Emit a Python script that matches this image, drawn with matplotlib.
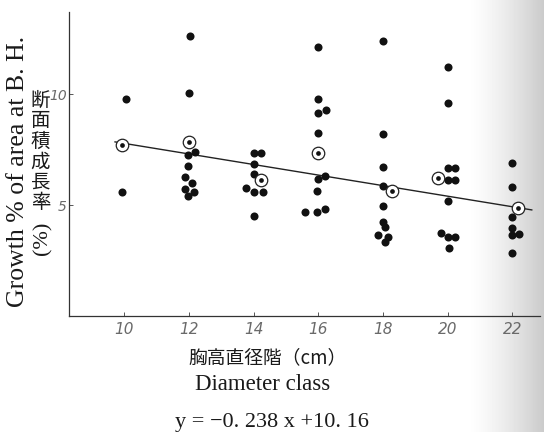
import numpy as np
import matplotlib
matplotlib.use("Agg")
import matplotlib.pyplot as plt

# diameter class (cm) and area growth (%) of each tree
dot_x = [10.05, 9.95,
         12.03, 12.0, 12.18, 11.97, 11.97, 11.88, 12.1, 11.88, 12.15, 11.97,
         14.0, 14.22, 14.0, 14.0, 13.78, 14.0, 14.28, 14.0,
         16.0, 16.0, 16.25, 16.0, 16.0, 16.2, 16.0, 15.97, 15.6, 15.97, 16.2,
         18.0, 18.0, 18.0, 18.0, 18.0, 18.0, 18.05, 17.85, 18.15, 18.05,
         20.0, 20.0, 20.0, 20.22, 20.0, 20.22, 20.0, 19.8, 20.0, 20.22, 20.03,
         22.0, 22.0, 22.0, 22.0, 22.0, 22.22, 22.0]
dot_y = [9.77, 5.59,
         12.63, 10.03, 7.39, 7.25, 6.77, 6.26, 5.99, 5.72, 5.59, 5.41,
         7.33, 7.33, 6.85, 6.38, 5.75, 5.60, 5.60, 4.50,
         12.13, 9.76, 9.28, 9.16, 8.26, 6.31, 6.16, 5.64, 4.70, 4.70, 4.82,
         12.39, 8.18, 6.73, 5.87, 4.97, 4.25, 4.02, 3.65, 3.57, 3.35,
         11.23, 9.58, 6.65, 6.65, 6.13, 6.13, 5.19, 3.72, 3.54, 3.57, 3.05,
         6.91, 5.83, 4.47, 3.95, 3.65, 3.69, 2.82]

# class means (circled points)
mean_x = [9.95, 12.0, 14.22, 16.0, 18.28, 19.7, 22.18]
mean_y = [7.70, 7.85, 6.13, 7.33, 5.63, 6.20, 4.85]

# regression y = -0.238 x + 10.16
slope = -0.238
intercept = 10.16
line_x = [9.72, 22.6]

xticks = [10, 12, 14, 16, 18, 20, 22]
yticks = [5, 10]

fig = plt.figure(figsize=(5.44, 4.32), dpi=100)

# page shadow of the scan on the right
bg = fig.add_axes([0, 0, 1, 1], zorder=0)
cols = np.arange(544)
t = np.clip((cols - 466) / (544 - 466), 0, 1)
shade = 1.0 - 0.21 * t ** 1.4
img = np.tile(shade, (432, 1))
bg.imshow(img, cmap="gray", vmin=0, vmax=1, aspect="auto",
          extent=[0, 1, 0, 1], interpolation="bilinear")
bg.set_axis_off()

ax = fig.add_axes([0.127, 0.2685, 0.866, 0.7037], zorder=1)
ax.patch.set_visible(False)

ax.plot(line_x, [slope * v + intercept for v in line_x],
        color="#222222", lw=1.0, zorder=2)
ax.plot(dot_x, dot_y, "o", ms=5.8, color="#111111", mec="none", zorder=3)
ax.plot(mean_x, mean_y, "o", ms=9, mfc="white", mec="#222222", mew=0.9, zorder=4)
ax.plot(mean_x, mean_y, "o", ms=3.4, color="#111111", mec="none", zorder=5)

ax.set_xlim(8.3, 22.86)
ax.set_ylim(0, 13.7)
ax.set_xticks(xticks)
ax.set_yticks(yticks)
ax.spines["top"].set_visible(False)
ax.spines["right"].set_visible(False)
for s in ("left", "bottom"):
    ax.spines[s].set_color("#333333")
    ax.spines[s].set_linewidth(0.9)
ax.tick_params(direction="in", length=3, width=0.7, color="#555555",
               labelcolor="#6a6a6a")
ax.tick_params(axis="y", pad=1.5)
ax.tick_params(axis="x", pad=4)
for lab in ax.get_xticklabels() + ax.get_yticklabels():
    lab.set_fontstyle("italic")
    lab.set_fontsize(11)
    lab.set_fontweight("light")
for lab in ax.get_yticklabels():
    lab.set_fontsize(10)

serif = ["Liberation Serif", "DejaVu Serif"]
cjk = ["Noto Sans CJK JP", "DejaVu Sans"]

fig.text(0.034, 0.602, "Growth % of area at B. H.", rotation=90,
         ha="center", va="center", fontsize=18.5, family=serif, color="#1a1a1a")
for i, ch in enumerate("断面積成長率"):
    fig.text(0.0745, 1 - (100 + 20.6 * i) / 432, ch, ha="center", va="center",
             fontsize=14, family=cjk, color="#1a1a1a")
fig.text(0.078, 0.449, "(%)", rotation=90, ha="center", va="center",
         fontsize=16, family=serif, color="#1a1a1a")

fig.text(0.491, 0.171, "胸高直径階（cm）", ha="center", va="center",
         fontsize=13.5, family=cjk, color="#1a1a1a")
fig.text(0.482, 0.109, "Diameter class", ha="center", va="center",
         fontsize=16.5, family=serif, color="#1a1a1a")
fig.text(0.5, 0.023, "y = \u22120. 238 x +10. 16", ha="center", va="center",
         fontsize=16, family=serif, color="#1a1a1a")

fig.savefig("out.png", dpi=100)
